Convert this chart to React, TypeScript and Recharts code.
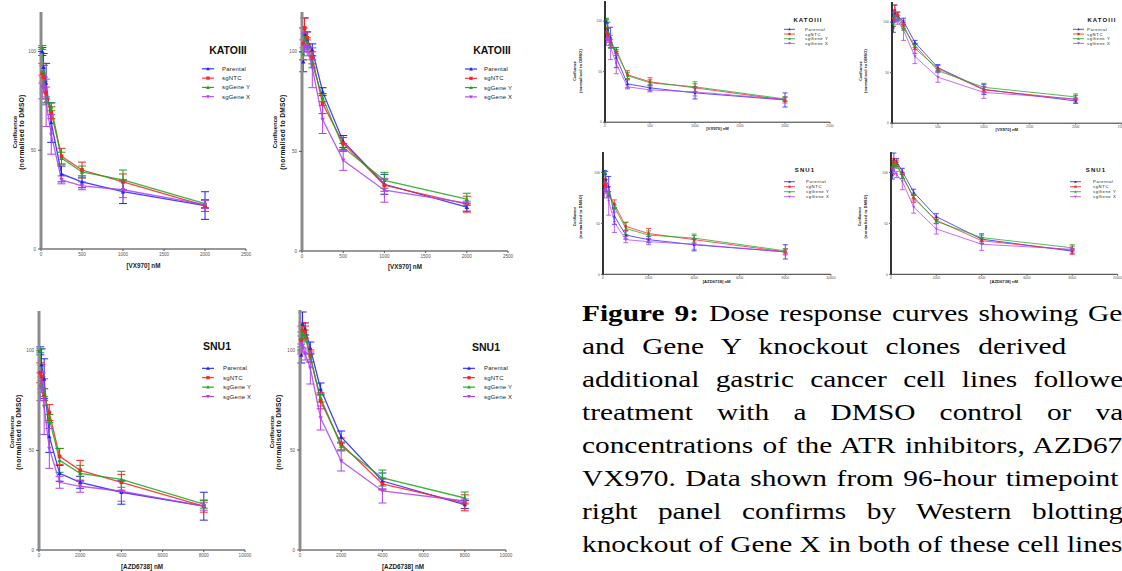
import React from "react";
import { LineChart, Line, XAxis, YAxis, ErrorBar } from "recharts";

// ---- data ----
const SERIES = ["Parental", "sgNTC", "sgGene Y", "sgGene X"];
const COLORS = ["#2020ff", "#ff2020", "#18a818", "#b040f0"];
const SHAPES = ["tri", "square", "tri", "triDown"];

const DOSE_VX = [15.6, 31.25, 62.5, 125, 250, 500, 1000, 2000];
const DOSE_AZD = [62.5, 125, 250, 500, 1000, 2000, 4000, 8000];
const TICKS_VX = [0, 500, 1000, 1500, 2000, 2500];
const TICKS_AZD = [0, 2000, 4000, 6000, 8000, 10000];
const Y_TICKS = [0, 50, 100];

// KATOIII, first clone set
const KA_PARENTAL = [100, 92, 84, 64, 38, 34, 29, 22];
const KA_NTC = [89, 87, 79, 69, 47, 40, 34, 22];
const KA_GENE_Y = [102, 90, 75, 72, 46, 39, 35, 23];
const KA_GENE_X = [82, 83, 74, 58, 35, 32, 30, 22.5];
const KA_PARENTAL_ERR = [2, 7, 10, 10, 4, 3, 6, 7];
const KA_NTC_ERR = [5, 6, 3, 3, 4, 4, 4, 3];
const KA_GENE_Y_ERR = [1, 3, 2, 2, 3, 3, 5, 2];
const KA_GENE_X_ERR = [6, 4, 12, 10, 2, 2, 4, 2];

// KATOIII, second clone set
const KB_PARENTAL = [95, 109, 106, 101, 80, 55, 33.5, 22];
const KB_NTC = [104, 112, 107, 97, 74, 54, 33, 23.5];
const KB_GENE_Y = [99, 106, 105, 94, 77, 52, 35.5, 26];
const KB_GENE_X = [109, 103, 102, 92, 66, 45.5, 30.5, 24];
const KB_PARENTAL_ERR = [5, 8, 4, 3, 2, 3, 5, 2];
const KB_NTC_ERR = [8, 5, 3, 3, 5, 3, 3, 4];
const KB_GENE_Y_ERR = [3, 3, 2, 2, 2, 2, 4, 3];
const KB_GENE_X_ERR = [3, 3, 4, 10, 7, 5, 6, 1];

// SNU1, first clone set
const SA_PARENTAL = [100, 93, 86, 57, 38.5, 34, 29, 22];
const SA_NTC = [89, 87, 78, 69, 47, 40, 34, 22];
const SA_GENE_Y = [100, 84, 79, 66, 45, 38.5, 35.5, 23];
const SA_GENE_X = [82, 84, 72, 51, 34, 32, 29.5, 22];
const SA_PARENTAL_ERR = [2, 8, 10, 8, 4, 3, 6, 7];
const SA_NTC_ERR = [5, 6, 3, 4, 4, 5, 4, 3];
const SA_GENE_Y_ERR = [1, 3, 2, 2, 6, 4, 4, 2];
const SA_GENE_X_ERR = [7, 5, 14, 10, 3, 3, 5, 2];

// SNU1, second clone set
const SB_PARENTAL = [97.5, 113, 110.5, 101, 80.5, 56.5, 34.5, 22.7];
const SB_NTC = [105, 109.7, 109, 97, 74.6, 53, 33, 23.6];
const SB_GENE_Y = [106, 108, 107, 96, 76, 52, 36, 26];
const SB_GENE_X = [103, 102, 98, 91, 66, 44.5, 29.5, 24.5];
const SB_PARENTAL_ERR = [4, 6, 3, 3, 3, 3, 4, 2];
const SB_NTC_ERR = [7, 4, 3, 3, 4, 3, 3, 4];
const SB_GENE_Y_ERR = [3, 3, 3, 2, 2, 2, 4, 3];
const SB_GENE_X_ERR = [4, 3, 3, 8, 6, 5, 6, 1];

const CAPTION_LINES = [
  "Dose response curves showing Ge",
  "and Gene Y knockout clones derived",
  "additional gastric cancer cell lines followe",
  "treatment with a DMSO control or va",
  "concentrations of the ATR inhibitors, AZD67",
  "VX970. Data shown from 96-hour timepoint",
  "right panel confirms by Western blotting",
  "knockout of Gene X in both of these cell lines",
];

function rows(dose: number[], vals: number[][], errs: number[][]) {
  return dose.map((x, i) => {
    const r: Record<string, number> = { x };
    vals.forEach((v, k) => {
      r[`s${k}`] = v[i];
      r[`e${k}`] = errs[k][i];
    });
    return r;
  });
}

const ROWS_KA = rows(DOSE_VX, [KA_PARENTAL, KA_NTC, KA_GENE_Y, KA_GENE_X], [KA_PARENTAL_ERR, KA_NTC_ERR, KA_GENE_Y_ERR, KA_GENE_X_ERR]);
const ROWS_KB = rows(DOSE_VX, [KB_PARENTAL, KB_NTC, KB_GENE_Y, KB_GENE_X], [KB_PARENTAL_ERR, KB_NTC_ERR, KB_GENE_Y_ERR, KB_GENE_X_ERR]);
const ROWS_SA = rows(DOSE_AZD, [SA_PARENTAL, SA_NTC, SA_GENE_Y, SA_GENE_X], [SA_PARENTAL_ERR, SA_NTC_ERR, SA_GENE_Y_ERR, SA_GENE_X_ERR]);
const ROWS_SB = rows(DOSE_AZD, [SB_PARENTAL, SB_NTC, SB_GENE_Y, SB_GENE_X], [SB_PARENTAL_ERR, SB_NTC_ERR, SB_GENE_Y_ERR, SB_GENE_X_ERR]);

// ---- layout (page px) ----
type Panel = {
  rows: Record<string, number>[];
  ticks: number[];
  xMax: number;
  xLabel: string;
  title: string;
  plot: [number, number, number, number]; // left, top, right, bottom
  small: boolean;
  title_: [number, number];
  legend: [number, number, number, number]; // markerX, textX, firstRowY, gap
  yLab: [number, number, number];
  xLabY: number;
};

const PANELS: Panel[] = [
  { rows: ROWS_KA, ticks: TICKS_VX, xMax: 2500, xLabel: "[VX970] nM", title: "KATOIII", plot: [41, 12, 246, 249], small: false, title_: [228, 50], legend: [202, 222, 68.8, 9.3], yLab: [15, 21.7, 132], xLabY: 265 },
  { rows: ROWS_KB, ticks: TICKS_VX, xMax: 2500, xLabel: "[VX970] nM", title: "KATOIII", plot: [302, 12, 508, 251], small: false, title_: [492, 50], legend: [465, 484, 69, 9.3], yLab: [275, 282.5, 132], xLabY: 266 },
  { rows: ROWS_SA, ticks: TICKS_AZD, xMax: 10000, xLabel: "[AZD6738] nM", title: "SNU1", plot: [39, 311, 245, 550], small: false, title_: [217, 346], legend: [202, 223, 368.3, 9.4], yLab: [12, 18, 432], xLabY: 566 },
  { rows: ROWS_SB, ticks: TICKS_AZD, xMax: 10000, xLabel: "[AZD6738] nM", title: "SNU1", plot: [300, 310, 506, 550], small: false, title_: [486, 347], legend: [463, 484, 368.3, 9.4], yLab: [272, 278, 432], xLabY: 566 },
  { rows: ROWS_KA, ticks: TICKS_VX, xMax: 2500, xLabel: "[VX970] nM", title: "KATOIII", plot: [605, 0.5, 830, 121.7], small: true, title_: [808, 19.5], legend: [784, 805, 29.3, 4.7], yLab: [575, 580.5, 71], xLabY: 128.5 },
  { rows: ROWS_KB, ticks: TICKS_VX, xMax: 2500, xLabel: "[VX970] nM", title: "KATOIII", plot: [892, 1.5, 1121.6, 122.7], small: true, title_: [1102, 20], legend: [1073, 1087, 29.3, 4.7], yLab: [860.5, 866, 71], xLabY: 129.5 },
  { rows: ROWS_SA, ticks: TICKS_AZD, xMax: 10000, xLabel: "[AZD6738] nM", title: "SNU1", plot: [602.7, 152, 830.6, 274.3], small: true, title_: [805, 170], legend: [784, 806, 181.7, 5], yLab: [575, 580.5, 216.5], xLabY: 281.7 },
  { rows: ROWS_SB, ticks: TICKS_AZD, xMax: 10000, xLabel: "[AZD6738] nM", title: "SNU1", plot: [890.7, 152, 1117.3, 274.3], small: true, title_: [1096, 170], legend: [1070, 1093, 181.7, 5], yLab: [860, 865.5, 216.5], xLabY: 281.7 },
];

const SANS = "'Liberation Sans', Arial, sans-serif";

function Marker({ shape, x, y, r, color }: { shape: string; x: number; y: number; r: number; color: string }) {
  if (shape === "square") return <rect x={x - r * 0.85} y={y - r * 0.85} width={r * 1.7} height={r * 1.7} fill={color} />;
  if (shape === "triDown")
    return <path d={`M${x},${y + r} L${x + r},${y - r * 0.8} L${x - r},${y - r * 0.8} Z`} fill={color} />;
  return <path d={`M${x},${y - r} L${x + r},${y + r * 0.8} L${x - r},${y + r * 0.8} Z`} fill={color} />;
}

function ChartPanel({ p }: { p: Panel }) {
  const [x0, y0, x1, y1] = p.plot;
  const yw = p.small ? 16 : 26;
  const mt = 4;
  const mr = 8;
  const xh = p.small ? 10 : 18;
  const w = yw + (x1 - x0) + mr;
  const h = mt + (y1 - y0) + xh;
  const tickFont = p.small ? 3.4 : 4.6;
  const r = p.small ? 1.5 : 2.2;
  return (
    <div style={{ position: "absolute", left: x0 - yw, top: y0 - mt }}>
      <LineChart width={w} height={h} data={p.rows} margin={{ top: mt, right: mr, bottom: 0, left: 0 }}>
        <XAxis
          dataKey="x"
          type="number"
          domain={[0, p.xMax]}
          ticks={p.ticks}
          interval={0}
          height={xh}
          axisLine={{ stroke: "#333", strokeWidth: 1 }}
          tickLine={{ stroke: "#555" }}
          tickSize={p.small ? 1.5 : 2}
          tickMargin={p.small ? 1 : 2}
          tick={{ fontSize: tickFont, fill: "#555", fontFamily: SANS }}
        />
        <YAxis
          type="number"
          domain={[0, 120]}
          ticks={Y_TICKS}
          interval={0}
          width={yw}
          axisLine={{ stroke: p.small ? "#333" : "#8c8c8c", strokeWidth: p.small ? 2 : 3 }}
          tickLine={{ stroke: "#555" }}
          tickSize={p.small ? 2 : 3}
          tickMargin={p.small ? 1 : 2}
          tick={{ fontSize: tickFont, fill: "#555", fontFamily: SANS }}
        />
        {SERIES.map((name, k) => (
          <Line
            key={name}
            name={name}
            dataKey={`s${k}`}
            stroke={COLORS[k]}
            strokeWidth={p.small ? 0.9 : 1.3}
            strokeOpacity={0.85}
            isAnimationActive={false}
            activeDot={false}
            dot={(d: any) => (
              <Marker key={`${name}-${d.index}`} shape={SHAPES[k]} x={d.cx} y={d.cy} r={r} color={COLORS[k]} />
            )}
          >
            <ErrorBar
              dataKey={`e${k}`}
              direction="y"
              width={p.small ? 2.5 : 4}
              stroke={COLORS[k]}
              strokeWidth={p.small ? 0.8 : 1}
              isAnimationActive={false}
            />
          </Line>
        ))}
      </LineChart>
    </div>
  );
}

function PanelText({ p }: { p: Panel }) {
  const [x0, , x1] = p.plot;
  const [mx, tx, ry, gap] = p.legend;
  const s = p.small;
  const mw = s ? 11 : 12;
  return (
    <g fontFamily={SANS}>
      <text
        x={p.title_[0]}
        y={p.title_[1]}
        textAnchor="middle"
        dominantBaseline="central"
        fontSize={s ? 6 : 10.5}
        fontWeight={700}
        letterSpacing={s ? 1.1 : 0}
        fill="#111"
      >
        {p.title}
      </text>
      {SERIES.map((name, k) => (
        <g key={name}>
          <line x1={mx} x2={mx + mw} y1={ry + k * gap} y2={ry + k * gap} stroke={COLORS[k]} strokeWidth={s ? 0.8 : 1.1} />
          <Marker shape={SHAPES[k]} x={mx + mw / 2} y={ry + k * gap} r={s ? 1.3 : 1.9} color={COLORS[k]} />
          <text x={tx} y={ry + k * gap} dominantBaseline="central" fontSize={s ? 4.2 : 6} fill="#222" letterSpacing={s ? 0.6 : 0.2}>
            {name}
          </text>
        </g>
      ))}
      <text
        transform={`translate(${p.yLab[0]},${p.yLab[2]}) rotate(-90)`}
        textAnchor="middle"
        dominantBaseline="central"
        fontSize={s ? 3.6 : 6}
        fontWeight={700}
        fill="#111"
      >
        Confluence
      </text>
      <text
        transform={`translate(${p.yLab[1]},${p.yLab[2]}) rotate(-90)`}
        textAnchor="middle"
        dominantBaseline="central"
        fontSize={s ? 3.8 : 6.6}
        fontWeight={700}
        letterSpacing={s ? 0.2 : 0.3}
        fill="#111"
      >
        (normalised to DMSO)
      </text>
      <text
        x={(x0 + x1) / 2}
        y={p.xLabY}
        textAnchor="middle"
        dominantBaseline="central"
        fontSize={s ? 4.2 : 6.3}
        fontWeight={700}
        fill="#222"
      >
        {p.xLabel}
      </text>
    </g>
  );
}

const CAP_LEFT = 581.7;
const CAP_SCALE = 1.276;
const CAP_ENDS = [1122, 1066, 1123, 1123, 1122, 1118, 1123, 1123];

export default function App() {
  return (
    <div
      style={{
        position: "absolute",
        left: 0,
        top: 0,
        width: 1122,
        height: 571,
        overflow: "hidden",
        background: "#fff",
      }}
    >
      {PANELS.map((p, i) => (
        <ChartPanel key={i} p={p} />
      ))}
      <svg width={1122} height={571} style={{ position: "absolute", left: 0, top: 0, pointerEvents: "none" }}>
        {PANELS.map((p, i) => (
          <PanelText key={i} p={p} />
        ))}
      </svg>
      {CAPTION_LINES.map((line, i) => (
        <div
          key={i}
          style={{
            position: "absolute",
            left: CAP_LEFT,
            top: 296.7 + i * 33,
            width: (CAP_ENDS[i] - CAP_LEFT) / CAP_SCALE,
            transform: `scaleX(${CAP_SCALE})`,
            transformOrigin: "0 0",
            fontFamily: "'Liberation Serif', 'Times New Roman', serif",
            fontSize: 23,
            lineHeight: "33px",
            whiteSpace: "nowrap",
            textAlign: "justify",
            textAlignLast: i === CAPTION_LINES.length - 1 ? "left" : "justify",
            color: "#000",
          }}
        >
          {i === 0 ? (
            <>
              <b>Figure 9:</b> {line}
            </>
          ) : (
            line
          )}
        </div>
      ))}
    </div>
  );
}
